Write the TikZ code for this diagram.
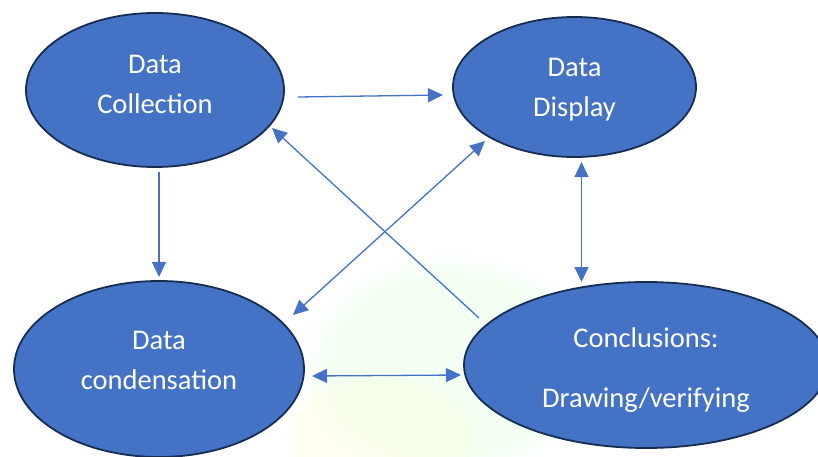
\documentclass[tikz,border=0pt]{standalone}
\usepackage{fontspec}
\setmainfont{Carlito}
\usetikzlibrary{arrows.meta,shapes.geometric,fadings}

\definecolor{blobfill}{HTML}{4472C4}
\definecolor{blobline}{HTML}{172C51}
\definecolor{linkcol}{HTML}{4472C4}

\tikzset{
  blob/.style={ellipse, draw=blobline, line width=1.8pt, fill=blobfill, inner sep=0pt},
  lbl/.style={text=white, align=center, inner sep=0pt, font=\fontsize{28.5}{40}\selectfont},
  link/.style={draw=linkcol, line width=1.3pt, -{Triangle[length=15pt,width=14pt]}},
  link2/.style={draw=linkcol, line width=1.3pt, {Triangle[length=15pt,width=14pt]}-{Triangle[length=15pt,width=14pt]}},
}

\begin{document}
\begin{tikzpicture}[x=1pt, y=-1pt]
  \useasboundingbox (0,0) rectangle (818,457);
  \clip (0,0) rectangle (818,457);

  % faint background haze in the lower middle
  \fill[green!35!white, opacity=0.12, path fading=circle with fuzzy edge 20 percent] (300,250) rectangle (600,480);
  \fill[yellow!45!white, opacity=0.12, path fading=circle with fuzzy edge 20 percent] (280,370) rectangle (480,500);

  % the four stages
  \node[blob, minimum width=258pt, minimum height=154pt] (coll) at (155,90) {};
  \node[blob, minimum width=243pt, minimum height=140pt] (disp) at (574.5,87) {};
  \node[blob, minimum width=290pt, minimum height=176pt] (cond) at (159,369) {};
  \node[blob, minimum width=364pt, minimum height=166pt] (conc) at (646,365) {};

  \node[lbl] (tcoll) at (155,84) {Data\\Collection};
  \node[lbl] (tdisp) at (574.5,90) {Data\\Display};
  \node[lbl] (tcond) at (159,360) {Data\\condensation};
  \node[lbl, font=\fontsize{28.5}{60}\selectfont] (tconc) at (646,370) {Conclusions:\\Drawing/verifying};

  % connector end points
  \coordinate (c1a) at (298,97);   \coordinate (c1b) at (443,95);
  \coordinate (c2a) at (159,172);  \coordinate (c2b) at (159,277);
  \coordinate (c3a) at (581.5,162);\coordinate (c3b) at (581.5,282);
  \coordinate (c4a) at (312,376);  \coordinate (c4b) at (461,375);
  \coordinate (c5a) at (479,318);  \coordinate (c5b) at (272,128);
  \coordinate (c6a) at (293,315);  \coordinate (c6b) at (485,141);

  \draw[link]  (c1a) -- (c1b);
  \draw[link]  (c2a) -- (c2b);
  \draw[link2] (c3a) -- (c3b);
  \draw[link2] (c4a) -- (c4b);
  \draw[link]  (c5a) -- (c5b);
  \draw[link2] (c6a) -- (c6b);
\end{tikzpicture}
\end{document}
